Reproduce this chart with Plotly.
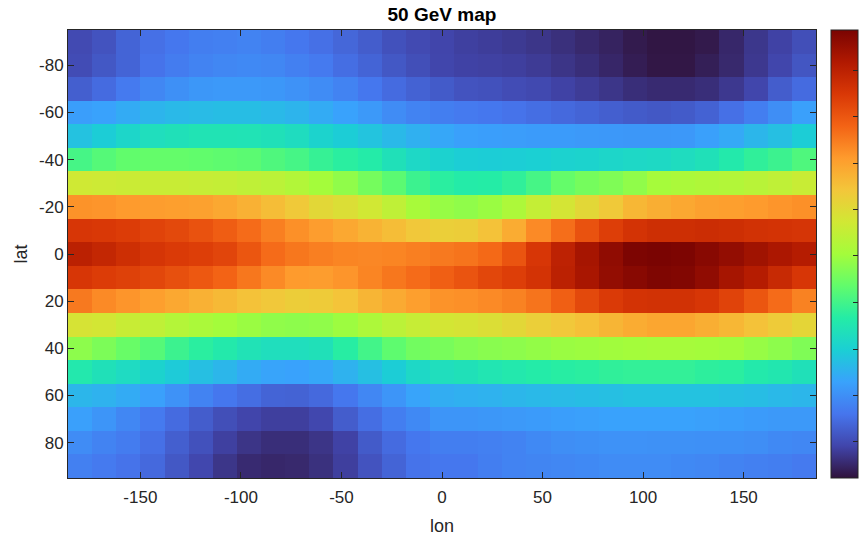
import plotly.graph_objects as go

# ---- data ----
lon = [-180, -168, -156, -144, -132, -120, -108, -96, -84, -72, -60, -48, -36, -24, -12,
       0, 12, 24, 36, 48, 60, 72, 84, 96, 108, 120, 132, 144, 156, 168, 180]
lat = [-90, -80, -70, -60, -50, -40, -30, -20, -10, 0, 10, 20, 30, 40, 50, 60, 70, 80, 90]

lat_m90 = [1.10, 1.30, 1.65, 1.90, 2.05, 2.20, 2.25, 2.30, 2.20, 2.05, 1.90, 1.70, 1.50, 1.25, 1.10,
           1.00, 0.90, 0.85, 0.78, 0.70, 0.58, 0.45, 0.33, 0.17, 0.08, 0.08, 0.15, 0.42, 0.72, 0.95, 1.20]
lat_m80 = [1.15, 1.40, 1.65, 1.95, 2.15, 2.30, 2.40, 2.45, 2.40, 2.25, 2.10, 1.85, 1.65, 1.40, 1.20,
           1.02, 0.95, 0.92, 0.88, 0.80, 0.68, 0.55, 0.40, 0.22, 0.10, 0.10, 0.25, 0.45, 0.75, 1.02, 1.35]
lat_m70 = [1.55, 1.80, 2.10, 2.40, 2.60, 2.75, 2.80, 2.80, 2.75, 2.65, 2.50, 2.30, 2.05, 1.80, 1.60,
           1.45, 1.30, 1.25, 1.15, 1.08, 0.95, 0.82, 0.70, 0.55, 0.48, 0.48, 0.55, 0.75, 1.02, 1.50, 1.80]
lat_m60 = [2.90, 3.00, 3.20, 3.40, 3.50, 3.55, 3.60, 3.60, 3.50, 3.40, 3.20, 3.00, 2.80, 2.50, 2.30,
           2.20, 2.10, 2.05, 1.95, 1.85, 1.75, 1.65, 1.55, 1.45, 1.40, 1.45, 1.60, 1.90, 2.20, 2.55, 2.95]
lat_m50 = [3.70, 3.95, 4.25, 4.50, 4.60, 4.70, 4.70, 4.68, 4.60, 4.45, 4.15, 3.95, 3.75, 3.50, 3.30,
           3.10, 2.95, 2.90, 2.88, 2.85, 2.85, 2.80, 2.78, 2.75, 2.75, 2.78, 2.95, 3.15, 3.45, 3.65, 3.95]
lat_m40 = [5.55, 5.80, 6.00, 6.05, 6.05, 6.00, 5.95, 5.90, 5.70, 5.55, 5.30, 5.10, 4.95, 4.60, 4.30,
           4.10, 3.98, 3.95, 3.97, 4.02, 4.10, 4.15, 4.25, 4.30, 4.35, 4.45, 4.60, 4.90, 5.20, 5.40, 5.70]
lat_m30 = [7.95, 7.90, 7.85, 7.80, 7.80, 7.75, 7.70, 7.60, 7.50, 7.30, 7.00, 6.70, 6.30, 5.90, 5.40,
           5.10, 4.95, 5.00, 5.20, 5.55, 6.05, 6.30, 6.45, 6.70, 7.05, 7.15, 7.25, 7.30, 7.45, 7.60, 7.80]
lat_m20 = [10.15, 10.10, 10.00, 9.95, 9.90, 9.85, 9.70, 9.50, 9.20, 8.90, 8.50, 8.30, 8.00, 7.60, 7.10,
           6.80, 6.70, 6.85, 7.20, 7.70, 8.10, 8.50, 8.90, 9.35, 9.55, 9.70, 9.85, 9.90, 10.00, 10.10, 10.20]
lat_m10 = [12.05, 12.00, 11.90, 11.75, 11.60, 11.40, 11.15, 10.85, 10.50, 10.20, 9.95, 9.70, 9.45, 9.20, 8.95,
           8.75, 8.80, 9.10, 9.60, 10.30, 10.80, 11.40, 11.85, 12.15, 12.30, 12.30, 12.35, 12.30, 12.20, 12.15, 12.10]
lat_0 = [12.75, 12.55, 12.30, 12.10, 11.95, 11.85, 11.70, 11.30, 10.85, 10.65, 10.50, 10.40, 10.35, 10.40, 10.50,
         10.60, 10.70, 10.90, 11.35, 12.05, 12.70, 13.20, 13.60, 13.95, 14.00, 13.95, 13.75, 13.55, 13.30, 13.10, 12.90]
lat_10 = [12.05, 11.90, 11.80, 11.65, 11.45, 11.25, 11.00, 10.65, 10.30, 10.00, 9.95, 10.10, 10.40, 10.65, 10.85,
          11.10, 11.35, 11.65, 11.85, 12.15, 12.75, 13.15, 13.55, 13.75, 13.90, 13.85, 13.60, 13.20, 12.90, 12.45, 12.05]
lat_20 = [10.60, 10.30, 10.10, 9.90, 9.70, 9.50, 9.30, 9.10, 8.95, 8.80, 8.85, 9.05, 9.40, 9.65, 9.90,
          10.15, 10.20, 10.30, 10.45, 10.70, 11.10, 11.60, 11.95, 12.15, 12.20, 12.20, 12.05, 11.75, 11.30, 10.85, 10.45]
lat_30 = [8.15, 8.05, 7.80, 7.60, 7.35, 7.15, 7.00, 6.85, 6.70, 6.65, 6.70, 6.90, 7.20, 7.50, 7.75,
          8.05, 8.15, 8.30, 8.50, 8.75, 8.95, 9.15, 9.40, 9.60, 9.75, 9.75, 9.55, 9.35, 9.10, 8.85, 8.55]
lat_40 = [6.65, 6.40, 6.10, 5.80, 5.40, 5.10, 4.90, 4.65, 4.50, 4.50, 4.60, 5.05, 5.50, 5.95, 6.25,
          6.35, 6.50, 6.60, 6.65, 6.75, 6.85, 6.90, 6.95, 7.00, 7.05, 7.05, 7.00, 6.95, 6.80, 6.65, 6.45]
lat_50 = [4.85, 4.60, 4.40, 4.15, 3.90, 3.65, 3.45, 3.20, 3.05, 3.00, 3.10, 3.35, 3.65, 3.95, 4.30,
          4.50, 4.60, 4.75, 4.85, 4.95, 5.05, 5.10, 5.20, 5.25, 5.25, 5.25, 5.15, 5.10, 4.90, 4.80, 4.60]
lat_60 = [3.45, 3.35, 3.20, 2.95, 2.65, 2.30, 2.05, 1.85, 1.65, 1.62, 1.75, 2.05, 2.40, 2.70, 3.05,
          3.25, 3.30, 3.35, 3.45, 3.50, 3.55, 3.60, 3.65, 3.70, 3.70, 3.70, 3.70, 3.65, 3.60, 3.50, 3.45]
lat_70 = [2.95, 2.70, 2.40, 2.10, 1.80, 1.50, 1.20, 1.00, 0.88, 0.88, 1.05, 1.50, 1.85, 2.20, 2.45,
          2.70, 2.70, 2.75, 2.80, 2.85, 2.90, 2.95, 3.00, 3.00, 3.00, 3.00, 2.95, 2.90, 2.85, 2.80, 2.80]
lat_80 = [2.50, 2.30, 2.15, 1.90, 1.55, 1.25, 0.90, 0.68, 0.55, 0.55, 0.68, 0.95, 1.45, 1.80, 2.05,
          2.20, 2.20, 2.25, 2.30, 2.45, 2.55, 2.60, 2.65, 2.65, 2.62, 2.62, 2.60, 2.60, 2.55, 2.45, 2.40]
lat_90 = [2.25, 2.10, 1.95, 1.75, 1.40, 1.05, 0.70, 0.48, 0.42, 0.45, 0.60, 0.88, 1.30, 1.65, 1.95,
          2.05, 2.05, 2.20, 2.30, 2.35, 2.40, 2.45, 2.50, 2.50, 2.50, 2.45, 2.40, 2.30, 2.25, 2.20, 2.10]

x_ticks = [-150, -100, -50, 0, 50, 100, 150]
x_labels = ["-150", "-100", "-50", "0", "50", "100", "150"]
y_ticks = [-80, -60, -40, -20, 0, 20, 40, 60, 80]
y_labels = ["-80", "-60", "-40", "-20", "0", "20", "40", "60", "80"]
cbar_ticks = [1.13, 2.58, 4.03, 5.48, 6.94, 8.39, 9.84, 11.30, 12.75]

z = [lat_m90, lat_m80, lat_m70, lat_m60, lat_m50, lat_m40, lat_m30, lat_m20, lat_m10,
     lat_0, lat_10, lat_20, lat_30, lat_40, lat_50, lat_60, lat_70, lat_80, lat_90]

INK = "#262626"
FONT = "Liberation Sans, Arial, Helvetica, sans-serif"

fig = go.Figure(
    go.Heatmap(
        x=lon, y=lat, z=z,
        colorscale="Turbo", zmin=0, zmax=14,
        colorbar=dict(
            x=1.0205, xanchor="left", xpad=0,
            y=0.5, yanchor="middle", ypad=0,
            len=1, lenmode="fraction",
            thickness=27, thicknessmode="pixels",
            outlinecolor=INK, outlinewidth=1,
            tickvals=cbar_ticks, ticks="inside", ticklen=5,
            tickcolor=INK, showticklabels=False,
        ),
        hoverongaps=False,
    )
)

fig.update_layout(
    width=864, height=536,
    margin=dict(l=68, r=48, t=30, b=58, autoexpand=False),
    paper_bgcolor="white", plot_bgcolor="white",
    font=dict(family=FONT, color=INK, size=17),
    title=dict(
        text="<b>50 GeV map</b>", x=0.5115, xanchor="center",
        y=0.973, yanchor="middle",
        font=dict(family=FONT, size=19, color="black"),
    ),
)

fig.update_xaxes(
    range=[-186, 186], tickvals=x_ticks, ticktext=x_labels,
    ticks="inside", ticklen=6, tickcolor=INK, tickwidth=1,
    showline=True, linecolor=INK, linewidth=1, mirror="ticks",
    showgrid=False, zeroline=False,
    tickfont=dict(size=17, color=INK), ticklabelstandoff=4,
    title=dict(text="lon", font=dict(size=18, color=INK), standoff=12),
    automargin=False,
)
fig.update_yaxes(
    range=[95, -95], tickvals=y_ticks, ticktext=y_labels,
    ticks="inside", ticklen=6, tickcolor=INK, tickwidth=1,
    showline=True, linecolor=INK, linewidth=1, mirror="ticks",
    showgrid=False, zeroline=False,
    tickfont=dict(size=17, color=INK),
    title=dict(text="lat", font=dict(size=18, color=INK), standoff=6),
    automargin=False,
)

fig.write_html("out.html")
